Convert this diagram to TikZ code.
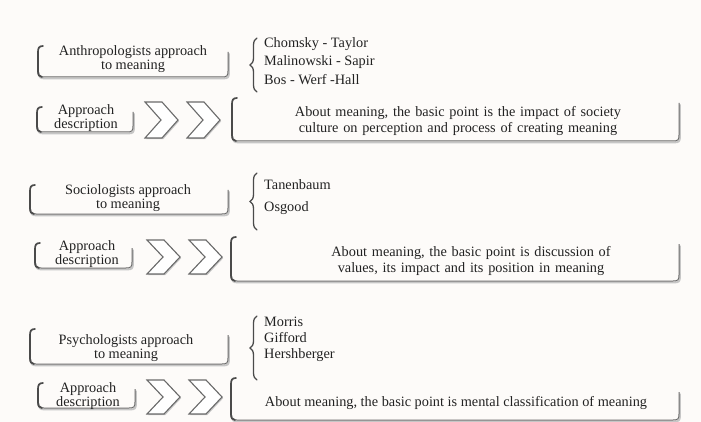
\documentclass[tikz,border=0pt]{standalone}
\usepackage{fontspec}
\setmainfont{Liberation Serif}
\usetikzlibrary{decorations.pathreplacing}
\definecolor{paper}{HTML}{FDFBF9}
\definecolor{ink}{HTML}{222222}
\definecolor{rim}{HTML}{6A6A6A}
\definecolor{rimdark}{HTML}{4A4A4A}
\definecolor{haze}{HTML}{C6C6C6}
\tikzset{
  lbl/.style={text=ink, font=\fontsize{14.3}{14}\selectfont, inner sep=0pt, align=center},
  who/.style={text=ink, font=\fontsize{14.3}{14}\selectfont, inner sep=0pt, anchor=west},
  rimline/.style={draw=rim, line width=1pt},
  leftrim/.style={draw=rimdark, line width=1.7pt, line cap=round},
  shade/.style={draw=haze, line width=1.8pt},
  bracestyle/.style={draw=rimdark, line width=1.3pt, line cap=round, decorate,
    decoration={brace, amplitude=7pt, aspect=0.5}},
  chevbox/.style={draw=rim, line width=1.1pt, fill=white, line join=miter},
}
% open-topped frame: left, top, right, bottom, top of the right edge
\newcommand\brframe[5]{%
  \draw[shade, xshift=1pt, yshift=-1.5pt]
    (#1,{#4-6}) .. controls (#1,{#4-1}) and ({#1+1},#4) .. ({#1+6},#4)
    -- ({#3-6},#4) .. controls ({#3-1},#4) and (#3,{#4-1}) .. (#3,{#4-6}) -- (#3,#5);
  \draw[rimline]
    (#1,{#4-6}) .. controls (#1,{#4-1}) and ({#1+1},#4) .. ({#1+6},#4)
    -- ({#3-6},#4) .. controls ({#3-1},#4) and (#3,{#4-1}) .. (#3,{#4-6}) -- (#3,#5);
  \draw[leftrim]
    ({#1+5},#2) .. controls ({#1+1},#2) and (#1,{#2+2}) .. (#1,{#2+6})
    -- (#1,{#4-6}) .. controls (#1,{#4-2}) and ({#1+1},{#4-0.5}) .. ({#1+4},#4);
}
% one chevron: left x, top, bottom
\newcommand\chevshape[3]{%
  \fill[haze, xshift=1.2pt, yshift=-1.2pt]
    (#1,#2) -- ({#1+17},#2) -- ({#1+33},{(#2+#3)/2}) -- ({#1+17},#3) -- (#1,#3)
    -- ({#1+16},{(#2+#3)/2}) -- cycle;
  \path[chevbox]
    (#1,#2) -- ({#1+17},#2) -- ({#1+33},{(#2+#3)/2}) -- ({#1+17},#3) -- (#1,#3)
    -- ({#1+16},{(#2+#3)/2}) -- cycle;
}
\begin{document}
\begin{tikzpicture}[x=1pt,y=-1pt]
\fill[paper] (0,0) rectangle (701,422);
\useasboundingbox (0,0) rectangle (701,422);

% ---------- anthropologists ----------
\brframe{38}{46}{228}{77}{52}
\node[lbl] (anth) at (133,59) {Anthropologists approach\\to meaning};
\coordinate (b1top) at (257,38);
\coordinate (b1bot) at (257,92);
\draw[bracestyle] (b1bot) -- (b1top);
\node[who] (n11) at (264,44) {Chomsky - Taylor};
\node[who] (n12) at (264,62) {Malinowski - Sapir};
\node[who] (n13) at (264,80) {Bos - Werf -Hall};

\brframe{37}{107}{133}{132}{112}
\node[lbl] (d1) at (86,118) {Approach\\description};
\chevshape{145}{102}{138}
\chevshape{187}{102}{138}
\brframe{232}{98}{679}{141}{103}
\node[lbl, text width=430pt, font=\fontsize{14.3}{16}\selectfont] (t1) at (458,121)
  {About meaning, the basic point is the impact of society\\culture on perception and process of creating meaning};

% ---------- sociologists ----------
\brframe{30}{185}{228}{214}{190}
\node[lbl] (soc) at (128,198) {Sociologists approach\\to meaning};
\coordinate (b2top) at (257,173);
\coordinate (b2bot) at (257,230);
\draw[bracestyle] (b2bot) -- (b2top);
\node[who] (n21) at (264,185) {Tanenbaum};
\node[who] (n22) at (264,208) {Osgood};

\brframe{35}{243}{132}{268}{248}
\node[lbl] (d2) at (87,254) {Approach\\description};
\chevshape{147}{240}{274}
\chevshape{189}{240}{274}
\brframe{231}{237}{679}{281}{244}
\node[lbl, text width=430pt, font=\fontsize{14.3}{16}\selectfont] (t2) at (471,261)
  {About meaning, the basic point is discussion of\\values, its impact and its position in meaning};

% ---------- psychologists ----------
\brframe{30}{329}{228}{364}{335}
\node[lbl] (psy) at (126,348) {Psychologists approach\\to meaning};
\coordinate (b3top) at (257,316);
\coordinate (b3bot) at (257,380);
\draw[bracestyle] (b3bot) -- (b3top);
\node[who] (n31) at (264,322) {Morris};
\node[who] (n32) at (264,338) {Gifford};
\node[who] (n33) at (264,355) {Hershberger};

\brframe{38}{383}{135}{408}{389}
\node[lbl] (d3) at (88,396) {Approach\\description};
\chevshape{147}{380}{414}
\chevshape{189}{380}{414}
\brframe{231}{378}{679}{420}{392}
\node[lbl] (t3) at (456,403)
  {About meaning, the basic point is mental classification of meaning};
\end{tikzpicture}
\end{document}
